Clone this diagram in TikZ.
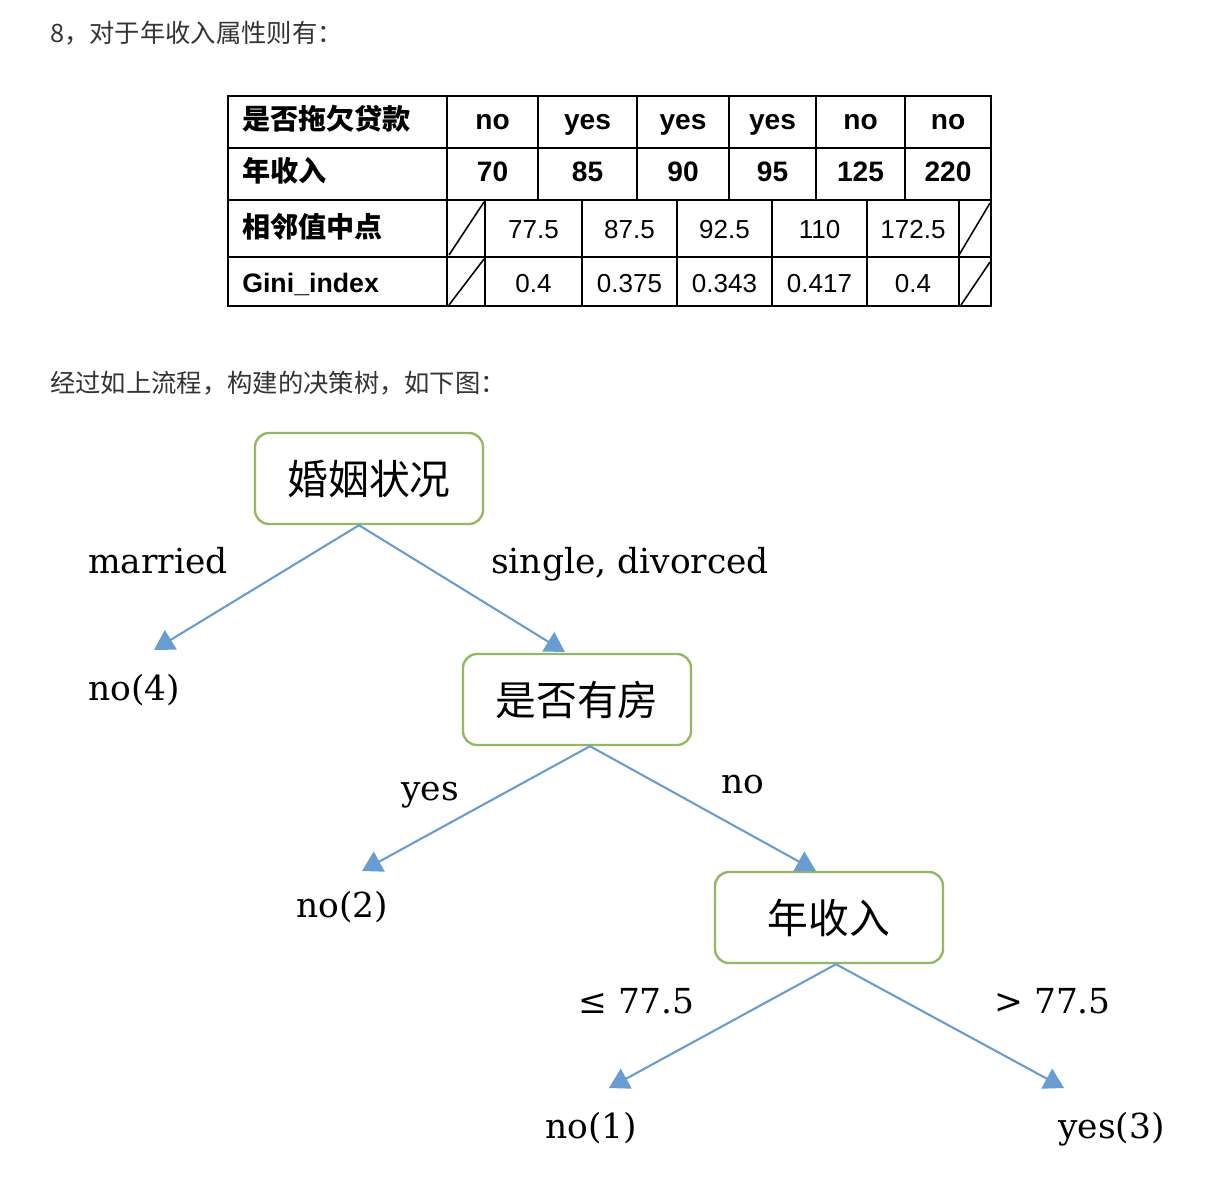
\documentclass[tikz,border=0pt]{standalone}
\usepackage{fontspec}
\usepackage{amsmath}
\usepackage{tikz}
\usetikzlibrary{arrows.meta,positioning}
\newfontfamily\cjk{Noto Sans CJK SC}
\newfontfamily\arial{Liberation Sans}
\newfontfamily\leaffont{DejaVu Serif}
\newcommand{\fsz}[1]{\fontsize{#1}{#1}\selectfont}
\definecolor{boxgreen}{RGB}{147,184,98}
\definecolor{arrowblue}{RGB}{104,157,212}
\definecolor{txtgray}{RGB}{51,51,51}
\tikzstyle{note} = [anchor=base west, inner sep=0pt, text=txtgray, font=\cjk\fsz{18pt}]
\tikzstyle{rowlabel} = [anchor=base west, inner sep=0pt, font=\cjk\bfseries\fsz{20pt}]
\tikzstyle{boldcell} = [anchor=base, inner sep=0pt, font=\arial\bfseries\fsz{20pt}]
\tikzstyle{cell} = [anchor=base, inner sep=0pt, font=\arial\fsz{18.5pt}]
\tikzstyle{grid} = [line width=1.3pt]
\tikzstyle{slash} = [line width=1.1pt]
\tikzstyle{treebox} = [draw=boxgreen, line width=1.7pt, rounded corners=10pt, minimum width=5.7cm, minimum height=2.275cm, font=\cjk\fsz{29pt}]
\tikzstyle{leaf} = [anchor=base west, inner sep=0pt, font=\leaffont\fsz{24.5pt}]
\tikzstyle{branch} = [draw=arrowblue, line width=1.5pt, -{Triangle[length=14pt,width=16pt]}]

\begin{document}
\begin{tikzpicture}[x=0.025cm, y=-0.025cm]
\useasboundingbox (0,0) rectangle (1215,1176);
% texte
\node[note] (title) at (50,43) {8，对于年收入属性则有：};
\node[note] (caption) at (50,392) {经过如上流程，构建的决策树，如下图：};
% tabla
\draw[grid] (228,96) rectangle (991,306);
\foreach \y in {148,200,257} \draw[grid] (228,\y) -- (991,\y);
\draw[grid] (447,96) -- (447,306);
\foreach \x in {538,637,729,816,905} \draw[grid] (\x,96) -- (\x,200);
\foreach \x in {485,582,677,772,867,959} \draw[grid] (\x,200) -- (\x,306);
\draw[slash] (449,255) -- (484,202);
\draw[slash] (449,305) -- (484,259);
\draw[slash] (959,255) -- (990,203);
\draw[slash] (961,305) -- (990,262);
\node[rowlabel] (loan) at (242,130) {是否拖欠贷款};
\node[rowlabel] (income) at (242,181) {年收入};
\node[rowlabel] (mid) at (242,237) {相邻值中点};
\node[rowlabel, font=\arial\bfseries\fsz{19pt}] (gini) at (242,292) {Gini\_index};
\foreach \x/\v [count=\i] in {492.5/no,587.5/yes,683/yes,772.5/yes,860.5/no,948/no}
  \node[boldcell] (loan\i) at (\x,130) {\v};
\foreach \x/\v [count=\i] in {492.5/70,587.5/85,683/90,772.5/95,860.5/125,948/220}
  \node[boldcell] (inc\i) at (\x,181) {\v};
\foreach \x/\v [count=\i] in {533.5/77.5,629.5/87.5,724.5/92.5,819.5/110,913/172.5}
  \node[cell] (mid\i) at (\x,238) {\v};
\foreach \x/\v [count=\i] in {533.5/0.4,629.5/0.375,724.5/0.343,819.5/0.417,913/0.4}
  \node[cell] (gini\i) at (\x,292) {\v};
% arbol
\node[treebox] (marital) at (369,478.5) {婚姻状况};
\node[treebox] (house) at (577,699.5) {是否有房};
\node[treebox] (salary) at (829,917.5) {年收入};
\node[leaf] (no4) at (88,700) {no(4)};
\node[leaf] (no2) at (296,917) {no(2)};
\node[leaf] (no1) at (545,1138) {no(1)};
\node[leaf] (yes3) at (1058,1138) {yes(3)};
\node[leaf] (married) at (88,573) {married};
\node[leaf] (single) at (491,573) {single, divorced};
\node[leaf] (hasyes) at (401,800) {yes};
\node[leaf] (hasno) at (721,793) {no};
\node[leaf] (le) at (578,1013) {≤ 77.5};
\node[leaf] (gt) at (994,1013) {> 77.5};
\coordinate (tipnofour) at (154,650);
\coordinate (tiphouse) at (565,652);
\coordinate (tipnotwo) at (362,871);
\coordinate (tipsalary) at (816,871);
\coordinate (tipnoone) at (609,1088);
\coordinate (tipyesthree) at (1064,1088);
\draw[branch] ([xshift=-0.25cm]marital.south) -- (tipnofour);
\draw[branch] ([xshift=-0.25cm]marital.south) -- (tiphouse);
\draw[branch] ([xshift=0.325cm]house.south) -- (tipnotwo);
\draw[branch] ([xshift=0.325cm]house.south) -- (tipsalary);
\draw[branch] ([xshift=0.175cm]salary.south) -- (tipnoone);
\draw[branch] ([xshift=0.175cm]salary.south) -- (tipyesthree);
\end{tikzpicture}
\end{document}
